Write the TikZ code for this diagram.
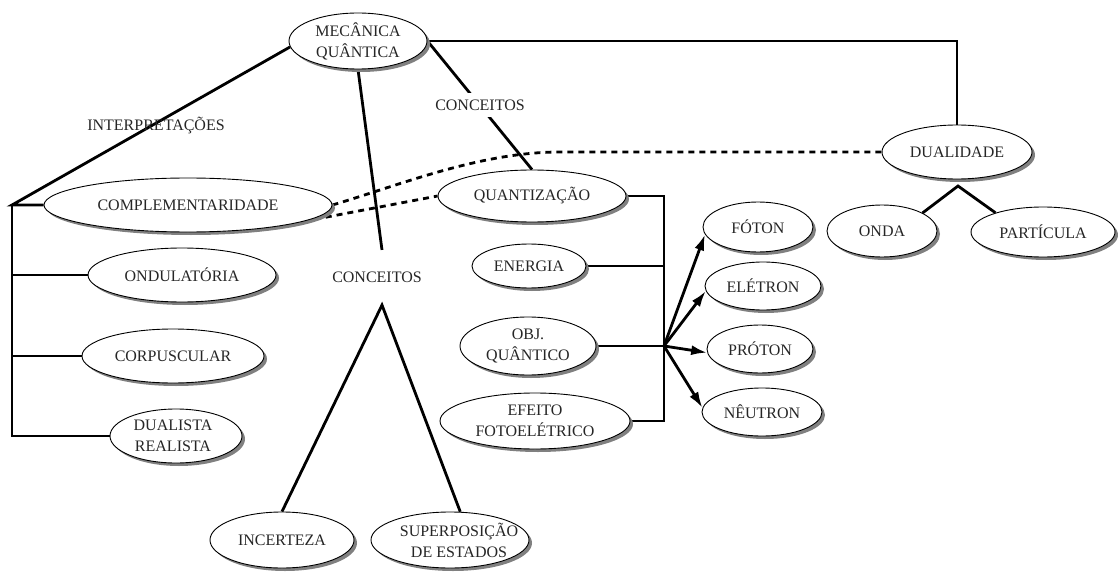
\documentclass[tikz,border=0pt]{standalone}
\usepackage{fontspec}
\setmainfont{Liberation Serif}
\usetikzlibrary{shapes.geometric,shadows,arrows.meta,backgrounds}

\begin{document}
\begin{tikzpicture}[x=1pt,y=-1pt,
  oval/.style={ellipse, draw, line width=0.9pt, fill=white, inner sep=0pt,
    drop shadow={shadow xshift=3pt, shadow yshift=-3pt, fill=black!50, opacity=1}},
  txt/.style={font=\fontsize{16}{21}\selectfont, align=center, inner sep=0pt, text=black!85},
  conn/.style={line width=2.8pt},
  thinconn/.style={line width=2.2pt},
  dashline/.style={line width=2.8pt, dash pattern=on 6pt off 5pt},
  arr/.style={line width=2.8pt, -{Latex[length=16pt,width=10pt]}},
]
\useasboundingbox (0,0) rectangle (1118,572);

% --- concept ovals ---
\node[oval, minimum width=138pt, minimum height=56pt, label={[txt]center:{MECÂNICA\\QUÂNTICA}}] (mq) at (358,41) {};
\node[oval, minimum width=288pt, minimum height=54pt, label={[txt]center:COMPLEMENTARIDADE}] (comp) at (188,205) {};
\node[oval, minimum width=188pt, minimum height=54pt, label={[txt]center:ONDULATÓRIA}] (ond) at (182,275) {};
\node[oval, minimum width=182pt, minimum height=54pt, label={[txt]center:CORPUSCULAR}] (corp) at (173,356) {};
\node[oval, minimum width=132pt, minimum height=54pt, label={[txt,xshift=-3pt]center:{DUALISTA\\REALISTA}}] (dualr) at (176,436) {};
\node[oval, minimum width=144pt, minimum height=56pt, label={[txt]center:INCERTEZA}] (inc) at (282,540) {};
\node[oval, minimum width=158pt, minimum height=56pt, label={[txt,xshift=9pt]center:{SUPERPOSIÇÃO\\DE ESTADOS}}] (sup) at (450,540) {};
\node[oval, minimum width=188pt, minimum height=52pt, label={[txt]center:QUANTIZAÇÃO}] (quant) at (532,196) {};
\node[oval, minimum width=114pt, minimum height=44pt, label={[txt]center:ENERGIA}] (ener) at (529,266) {};
\node[oval, minimum width=136pt, minimum height=58pt, label={[txt]center:{OBJ.\\QUÂNTICO}}] (obj) at (528,346) {};
\node[oval, minimum width=190pt, minimum height=56pt, label={[txt]center:{EFEITO\\FOTOELÉTRICO}}] (efeito) at (535,421) {};
\node[oval, minimum width=110pt, minimum height=50pt, label={[txt]center:FÓTON}] (foton) at (758,227) {};
\node[oval, minimum width=116pt, minimum height=48pt, label={[txt]center:ELÉTRON}] (eletron) at (763,286) {};
\node[oval, minimum width=106pt, minimum height=48pt, label={[txt]center:PRÓTON}] (proton) at (760,349) {};
\node[oval, minimum width=120pt, minimum height=48pt, label={[txt]center:NÊUTRON}] (neutron) at (762,412) {};
\node[oval, minimum width=150pt, minimum height=54pt, label={[txt]center:DUALIDADE}] (dualid) at (957,152) {};
\node[oval, minimum width=110pt, minimum height=52pt, label={[txt]center:ONDA}] (onda) at (882,231) {};
\node[oval, minimum width=144pt, minimum height=50pt, label={[txt]center:PARTÍCULA}] (part) at (1043,232) {};

% --- link labels ---
\node[txt] (interp) at (156,126) {INTERPRETAÇÕES};
\node[txt, fill=white, inner xsep=2pt, inner ysep=7pt] (c1) at (480,105) {CONCEITOS};
\node[txt, inner ysep=22pt] (c2) at (377,277.5) {CONCEITOS};

% --- junction points ---
\coordinate (lc) at (12,205);
\coordinate (hub) at (664,346);
\coordinate (dapex) at (958,186);

\begin{pgfonlayer}{background}
  % interpretations bracket
  \draw[conn] (mq.185) -- (lc) -- (comp.west);
  \draw[conn] (lc) |- (dualr.west);
  \draw[conn] (ond.west -| lc) -- (ond.west);
  \draw[conn] (corp.west -| lc) -- (corp.west);

  % concepts below the root
  \draw[conn] (mq.south) -- ([xshift=5pt]c2.north);
  \draw[conn] (inc.north) -- ([xshift=5pt]c2.south) -- (sup.70);

  % concepts to the right of the root
  \draw[conn] (mq.east) -- (quant.north);
  \draw[thinconn] (mq.east) -| (dualid.north);
  \draw[conn] (onda.24) -- (dapex) -- (part.158);

  % dashed relations
  \draw[dashline] (comp.east) .. controls (400,185) and (480,152) .. (560,152) -- (dualid.west);
  \draw[dashline] (comp.-8) -- (quant.west);

  % quantum objects bracket
  \draw[conn] (quant.east) -| (hub);
  \draw[conn] (efeito.east) -| (hub);
  \draw[conn] (ener.east) -- (ener.east -| hub);
  \draw[conn] (obj.east) -- (hub);

  % particles
  \draw[arr] (hub) -- (foton.188);
  \draw[arr] (hub) -- (eletron.185);
  \draw[arr] (hub) -- (proton.184);
  \draw[arr] (hub) -- (neutron.176);
\end{pgfonlayer}
\end{tikzpicture}
\end{document}
